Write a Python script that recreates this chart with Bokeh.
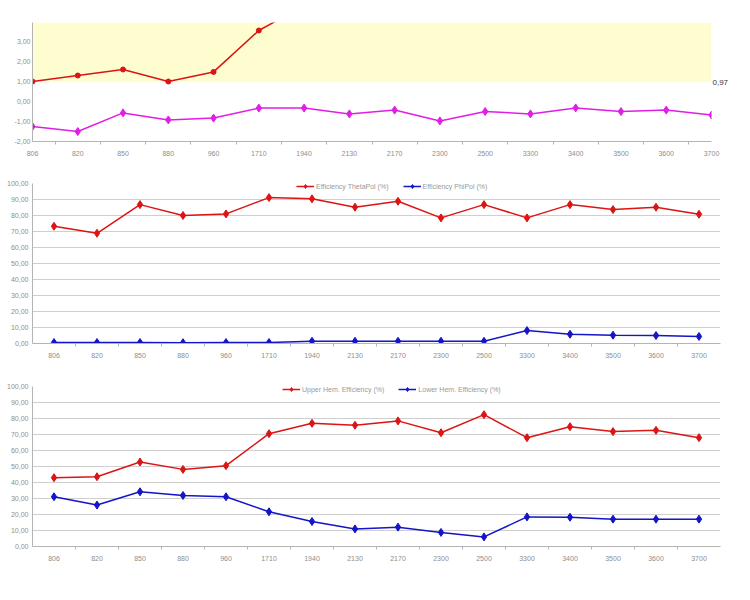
from bokeh.plotting import figure
from bokeh.layouts import column
from bokeh.models import (Range1d, BoxAnnotation, Legend, LegendItem,
                          CustomJSTickFormatter, FixedTicker, LinearAxis)
from bokeh.embed import file_html
from bokeh.resources import INLINE

# ---------------- data ----------------
freqs = ["806", "820", "850", "880", "960", "1710", "1940", "2130", "2170",
         "2300", "2500", "3300", "3400", "3500", "3600", "3700"]

# top panel (values above 4 are outside the visible window)
vswr = [1.00, 1.30, 1.60, 1.00, 1.48, 3.55, 4.80, 5.20, 5.00, 5.50, 6.00,
        7.00, 6.50, 6.80, 7.20, 7.50]
gain = [-1.25, -1.50, -0.57, -0.92, -0.83, -0.33, -0.33, -0.62, -0.43,
        -0.97, -0.50, -0.62, -0.32, -0.50, -0.43, -0.68]
ref_level = 0.97
top_ticks = [-2, -1, 0, 1, 2, 3]

# middle panel
eff_theta = [73.3, 68.9, 86.8, 80.0, 81.0, 91.2, 90.4, 85.2, 88.9, 78.5,
             86.8, 78.5, 86.8, 83.7, 85.2, 80.8]
eff_phi = [0.6, 0.6, 0.6, 0.5, 0.6, 0.6, 1.4, 1.4, 1.4, 1.4, 1.4, 8.1, 5.8,
           5.2, 5.0, 4.4]

# bottom panel
upper_hem = [43.0, 43.6, 52.8, 48.2, 50.5, 70.5, 77.0, 75.8, 78.5, 71.1,
             82.4, 68.0, 74.9, 71.8, 72.6, 68.0]
lower_hem = [31.1, 25.9, 34.2, 31.9, 31.1, 21.7, 15.6, 11.0, 12.1, 8.8,
             6.0, 18.5, 18.3, 17.1, 17.1, 17.1]
pct_ticks = [0, 10, 20, 30, 40, 50, 60, 70, 80, 90, 100]

# ---------------- style ----------------
FONT = "Liberation Sans"
RED = "#dc1414"
BLUE = "#1414c8"
MAGENTA = "#e01ee6"
LABEL_COLOR = "#8e8e8e"
AXIS_COLOR = "#b4b4b4"
GRID_COLOR = "#cfcfcf"

xs = list(range(len(freqs)))
fmt = CustomJSTickFormatter(code="return tick.toFixed(2).replace('.', ',');")


def style(p, yticks, ystandoff):
    p.outline_line_color = None
    p.background_fill_color = "white"
    p.border_fill_color = "white"
    p.xaxis.ticker = FixedTicker(ticks=xs, minor_ticks=[i + 0.5 for i in xs[:-1]])
    p.xaxis.major_label_overrides = {i: f for i, f in enumerate(freqs)}
    p.yaxis.ticker = FixedTicker(ticks=yticks)
    p.yaxis.formatter = fmt
    for ax in (p.xaxis, p.yaxis):
        ax.axis_line_color = AXIS_COLOR
        ax.major_label_text_font = FONT
        ax.major_label_text_font_size = "7px"
        ax.major_label_text_color = LABEL_COLOR
        ax.major_tick_line_color = None
        ax.major_tick_out = 0
        ax.major_tick_in = 0
        ax.minor_tick_line_color = None
        ax.minor_tick_out = 0
        ax.minor_tick_in = 0
    p.xaxis.minor_tick_line_color = AXIS_COLOR
    p.xaxis.minor_tick_out = 3
    p.xaxis.major_label_standoff = 6
    p.yaxis.major_label_standoff = ystandoff
    p.xgrid.grid_line_color = None


# ---------------- top panel ----------------
p1 = figure(frame_width=679, frame_height=119, output_backend="svg",
            toolbar_location=None,
            x_range=Range1d(0, 15), y_range=Range1d(-2, 3.95),
            min_border_left=30, min_border_right=41, min_border_top=22,
            min_border_bottom=29)
style(p1, top_ticks, 2)
p1.ygrid.grid_line_color = None
p1.add_layout(BoxAnnotation(bottom=ref_level, fill_color="#fefdd0",
                            fill_alpha=1.0, line_color=None, level="underlay"))
p1.line(xs, vswr, line_color=RED, line_width=1.5)
p1.scatter(xs, vswr, marker="circle", size=5, fill_color=RED, line_color=RED)
p1.line(xs, gain, line_color=MAGENTA, line_width=1.5)
p1.scatter(xs, gain, marker="diamond", size=8, fill_color=MAGENTA,
           line_color=MAGENTA)
ref_axis = LinearAxis(ticker=FixedTicker(ticks=[ref_level]),
                      major_label_overrides={ref_level: "0,97"},
                      axis_line_color=None, major_tick_line_color=None,
                      minor_tick_line_color=None, major_tick_out=0,
                      major_tick_in=0, minor_tick_out=0, minor_tick_in=0,
                      major_label_standoff=1,
                      major_label_text_font=FONT,
                      major_label_text_font_size="8px",
                      major_label_text_color="#333333")
p1.add_layout(ref_axis, "right")


def eff_panel(top_border, s1, s2, n1, n2, leg_x):
    p = figure(frame_width=688, frame_height=160, output_backend="svg",
               toolbar_location=None,
               x_range=Range1d(-0.5, 15.5), y_range=Range1d(0, 100),
               min_border_left=32, min_border_right=30,
               min_border_top=top_border, min_border_bottom=200 - top_border - 160)
    style(p, pct_ticks, 4)
    p.ygrid.grid_line_color = GRID_COLOR
    p.ygrid.grid_line_width = 1
    p.ygrid.ticker = FixedTicker(ticks=pct_ticks)
    r1 = p.line(xs, s1, line_color=RED, line_width=1.5)
    m1 = p.scatter(xs, s1, marker="diamond", size=8, fill_color=RED,
                   line_color=RED)
    r2 = p.line(xs, s2, line_color=BLUE, line_width=1.5)
    m2 = p.scatter(xs, s2, marker="diamond", size=8, fill_color=BLUE,
                   line_color=BLUE)
    leg = Legend(items=[LegendItem(label=n1, renderers=[r1, m1]),
                        LegendItem(label=n2, renderers=[r2, m2])],
                 orientation="horizontal", location=(leg_x, 152),
                 padding=3, margin=0, spacing=14, label_standoff=2,
                 glyph_width=18, glyph_height=10, label_height=10,
                 label_text_font=FONT, label_text_font_size="7px",
                 label_text_color="#9a9a9a", border_line_color=None,
                 background_fill_color="white", background_fill_alpha=1.0)
    p.add_layout(leg)
    return p


p2 = eff_panel(13, eff_theta, eff_phi, "Efficiency ThetaPol (%)",
               "Efficiency PhiPol (%)", 264)
p3 = eff_panel(16, upper_hem, lower_hem, "Upper Hem. Efficiency (%)",
               "Lower Hem. Efficiency (%)", 250)

layout = column(p1, p2, p3, spacing=0)
open("out.html", "w").write(file_html(layout, INLINE))
